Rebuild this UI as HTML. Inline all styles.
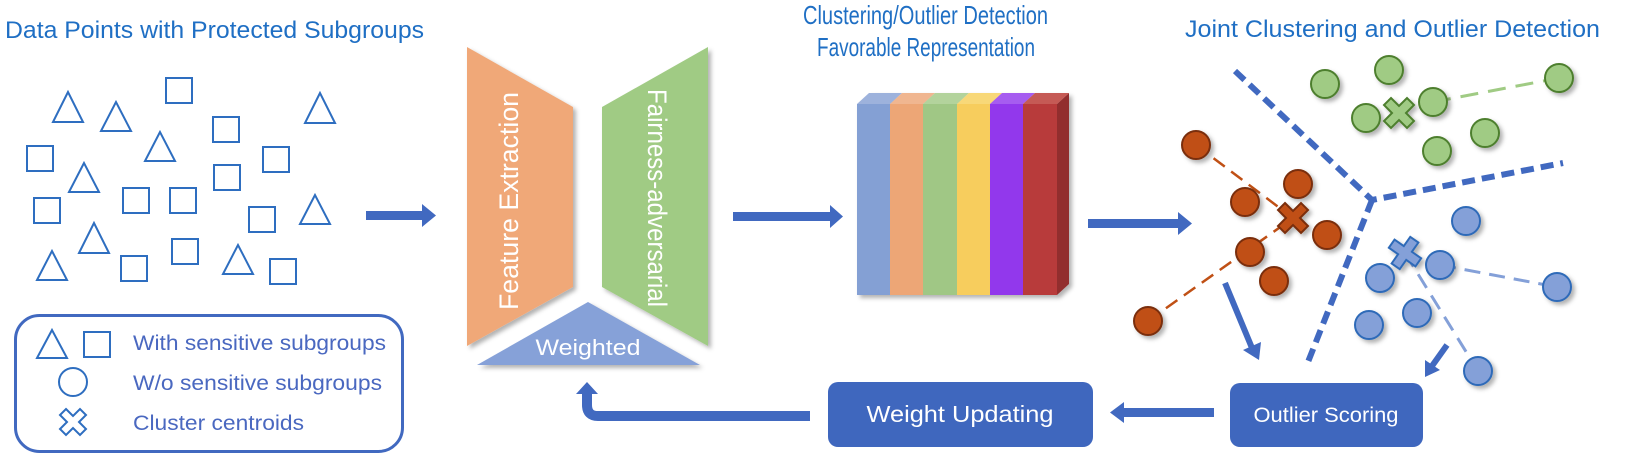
<!DOCTYPE html>
<html><head><meta charset="utf-8"><style>
html,body{margin:0;padding:0;background:#fff;}
svg{display:block;}
text{font-family:"Liberation Sans",sans-serif;}
</style></head><body>
<svg width="1626" height="460" viewBox="0 0 1626 460" xmlns="http://www.w3.org/2000/svg">
<defs>
<filter id="sh" x="-20%" y="-20%" width="150%" height="150%"><feDropShadow dx="3" dy="3" stdDeviation="2" flood-color="#000" flood-opacity="0.3"/></filter>
</defs>
<!-- titles -->
<g fill="#1F6FC4" font-size="24">
<text x="5" y="38" textLength="419" lengthAdjust="spacingAndGlyphs">Data Points with Protected Subgroups</text>
<text x="803" y="24" font-size="26" textLength="245" lengthAdjust="spacingAndGlyphs">Clustering/Outlier Detection</text>
<text x="817" y="56" font-size="26" textLength="218" lengthAdjust="spacingAndGlyphs">Favorable Representation</text>
<text x="1185" y="37" textLength="415" lengthAdjust="spacingAndGlyphs">Joint Clustering and Outlier Detection</text>
</g>
<!-- data points -->
<g fill="none" stroke="#2E6EC0" stroke-width="2">
<polygon points="68,92 53,122 83,122"/>
<polygon points="116,102 101,131 131,131"/>
<polygon points="160,132 145,161 175,161"/>
<polygon points="320,93 305,123 335,123"/>
<polygon points="84,163 69,192 99,192"/>
<polygon points="315,195 300,224 330,224"/>
<polygon points="94,223 79,253 109,253"/>
<polygon points="52,251 37,280 67,280"/>
<polygon points="238,245 223,274 253,274"/>
<rect x="166" y="78" width="26" height="25"/>
<rect x="213" y="117" width="26" height="25"/>
<rect x="27" y="146" width="26" height="25"/>
<rect x="263" y="147" width="26" height="25"/>
<rect x="214" y="165" width="26" height="25"/>
<rect x="34" y="198" width="26" height="25"/>
<rect x="123" y="188" width="26" height="25"/>
<rect x="170" y="188" width="26" height="25"/>
<rect x="249" y="207" width="26" height="25"/>
<rect x="172" y="239" width="26" height="25"/>
<rect x="121" y="256" width="26" height="25"/>
<rect x="270" y="259" width="26" height="25"/>
</g>
<!-- legend -->
<rect x="15.5" y="315.5" width="387" height="136" rx="24" fill="none" stroke="#4169C0" stroke-width="3"/>
<g fill="none" stroke="#2E6EC0" stroke-width="2">
<polygon points="52,330 37,358 67,358"/>
<rect x="84" y="332" width="26" height="25"/>
<circle cx="73" cy="382" r="14"/>
<path d="M66,409 L73,416 L80,409 L86,415 L79,422 L86,429 L80,435 L73,428 L66,435 L60,429 L67,422 L60,415 Z"/>
</g>
<g fill="#4A68C0" font-size="21">
<text x="133" y="350" textLength="253" lengthAdjust="spacingAndGlyphs">With sensitive subgroups</text>
<text x="133" y="390" textLength="249" lengthAdjust="spacingAndGlyphs">W/o sensitive subgroups</text>
<text x="133" y="430" textLength="171" lengthAdjust="spacingAndGlyphs">Cluster centroids</text>
</g>
<!-- arrow 1 -->
<polygon points="366,211 422,211 422,204 436,215.5 422,227 422,220 366,220" fill="#4169C0"/>
<!-- network -->
<g filter="url(#sh)">
<polygon points="467,47 573,107 573,287 467,346" fill="#F0A878"/>
<polygon points="602,107 708,47 708,346 602,287" fill="#A0CB84"/>
<polygon points="588,302 700,365 477,365" fill="#86A1D8"/>
</g>
<text transform="translate(518,201) rotate(-90)" text-anchor="middle" fill="#fff" font-size="27" textLength="218" lengthAdjust="spacingAndGlyphs">Feature Extraction</text>
<text transform="translate(648,198) rotate(90)" text-anchor="middle" fill="#fff" font-size="27" textLength="218" lengthAdjust="spacingAndGlyphs">Fairness-adversarial</text>
<text x="588" y="355" text-anchor="middle" fill="#fff" font-size="22" textLength="105" lengthAdjust="spacingAndGlyphs">Weighted</text>
<!-- arrow 2 -->
<polygon points="733,212 830,212 830,205 843,216.5 830,228 830,221 733,221" fill="#4169C0"/>
<!-- stack -->
<g filter="url(#sh)">
<polygon points="1057,104 1069,93 1069,284 1057,295" fill="#922E2E"/>
<polygon points="857,104 869,93 902,93 890,104" fill="#9DB2DC"/>
<polygon points="890,104 902,93 935,93 923,104" fill="#F0B690"/>
<polygon points="923,104 935,93 969,93 957,104" fill="#B3D39C"/>
<polygon points="957,104 969,93 1002,93 990,104" fill="#F8D878"/>
<polygon points="990,104 1002,93 1035,93 1023,104" fill="#A65CF0"/>
<polygon points="1023,104 1035,93 1069,93 1057,104" fill="#C55A55"/>
<rect x="857" y="104" width="33" height="191" fill="#84A0D4"/>
<rect x="890" y="104" width="33" height="191" fill="#EDA676"/>
<rect x="923" y="104" width="34" height="191" fill="#A0C785"/>
<rect x="957" y="104" width="33" height="191" fill="#F7CD5D"/>
<rect x="990" y="104" width="33" height="191" fill="#9238EC"/>
<rect x="1023" y="104" width="34" height="191" fill="#B83A3A"/>
</g>
<!-- arrow 3 -->
<polygon points="1088,219 1178,219 1178,212 1192,223.5 1178,235 1178,228 1088,228" fill="#4169C0"/>
<!-- dividers -->
<g stroke="#4169C0" stroke-width="6" fill="none" stroke-dasharray="13,7">
<polyline points="1235,71 1372,200 1563,163"/>
<polyline points="1372,200 1308,362"/>
</g>
<!-- dashed connector lines -->
<line x1="1433" y1="102" x2="1559" y2="78" stroke="#A0CB84" stroke-width="3" stroke-dasharray="18,10"/>
<g stroke="#C05015" stroke-width="2.5" stroke-dasharray="14,8">
<line x1="1196" y1="145" x2="1293" y2="218"/>
<line x1="1148" y1="321" x2="1293" y2="218"/>
</g>
<g stroke="#84A0D8" stroke-width="3" stroke-dasharray="16,9">
<line x1="1440" y1="265" x2="1557" y2="287"/>
<line x1="1405" y1="253" x2="1478" y2="371"/>
</g>
<!-- clusters -->
<g filter="url(#sh)" stroke-width="2">
<g fill="#A0CB84" stroke="#4E7F2E">
<circle cx="1325" cy="84" r="14"/><circle cx="1389" cy="70" r="14"/><circle cx="1366" cy="118" r="14"/>
<circle cx="1433" cy="102" r="14"/><circle cx="1559" cy="78" r="14"/><circle cx="1485" cy="133" r="14"/>
<circle cx="1437" cy="151" r="14"/>
<path transform="translate(1399,113)" d="M-8,-15 L0,-7 L8,-15 L15,-8 L7,0 L15,8 L8,15 L0,7 L-8,15 L-15,8 L-7,0 L-15,-8 Z"/>
</g>
<g fill="#C05015" stroke="#7A2E0A">
<circle cx="1196" cy="145" r="14"/><circle cx="1298" cy="184" r="14"/><circle cx="1245" cy="202" r="14"/>
<circle cx="1327" cy="235" r="14"/><circle cx="1250" cy="252" r="14"/><circle cx="1274" cy="281" r="14"/>
<circle cx="1148" cy="321" r="14"/>
<path transform="translate(1293,218)" d="M-8,-15 L0,-7 L8,-15 L15,-8 L7,0 L15,8 L8,15 L0,7 L-8,15 L-15,8 L-7,0 L-15,-8 Z"/>
</g>
<g fill="#84A0D8" stroke="#2E6AB8">
<circle cx="1466" cy="221" r="14"/><circle cx="1440" cy="265" r="14"/><circle cx="1380" cy="278" r="14"/>
<circle cx="1557" cy="287" r="14"/><circle cx="1417" cy="313" r="14"/><circle cx="1369" cy="325" r="14"/>
<circle cx="1478" cy="371" r="14"/>
<path transform="translate(1405,253) rotate(-10)" d="M-8,-15 L0,-7 L8,-15 L15,-8 L7,0 L15,8 L8,15 L0,7 L-8,15 L-15,8 L-7,0 L-15,-8 Z"/>
</g>
</g>
<!-- small arrows to Outlier Scoring -->
<line x1="1225" y1="283" x2="1252" y2="348" stroke="#4169C0" stroke-width="6"/>
<polygon points="1243,350 1259,360 1261,342" fill="#4169C0"/>
<line x1="1447" y1="345" x2="1432" y2="366" stroke="#4169C0" stroke-width="6"/>
<polygon points="1425,360 1425,377 1440,370" fill="#4169C0"/>
<!-- boxes -->
<rect x="1230" y="383" width="193" height="64" rx="10" fill="#3F67BE"/>
<text x="1326" y="422" text-anchor="middle" fill="#fff" font-size="21" textLength="145" lengthAdjust="spacingAndGlyphs">Outlier Scoring</text>
<rect x="828" y="382" width="265" height="65" rx="10" fill="#3F67BE"/>
<text x="960" y="422" text-anchor="middle" fill="#fff" font-size="23" textLength="187" lengthAdjust="spacingAndGlyphs">Weight Updating</text>
<!-- arrow Outlier -> Weight -->
<polygon points="1214,408 1124,408 1124,402 1110,412.5 1124,423 1124,417 1214,417" fill="#4169C0"/>
<!-- feedback arrow -->
<path d="M810,416 L598,416 Q587,416 587,405 L587,392" fill="none" stroke="#4169C0" stroke-width="10"/>
<polygon points="576,394 598,394 587,382" fill="#4169C0"/>
</svg>
</body></html>
